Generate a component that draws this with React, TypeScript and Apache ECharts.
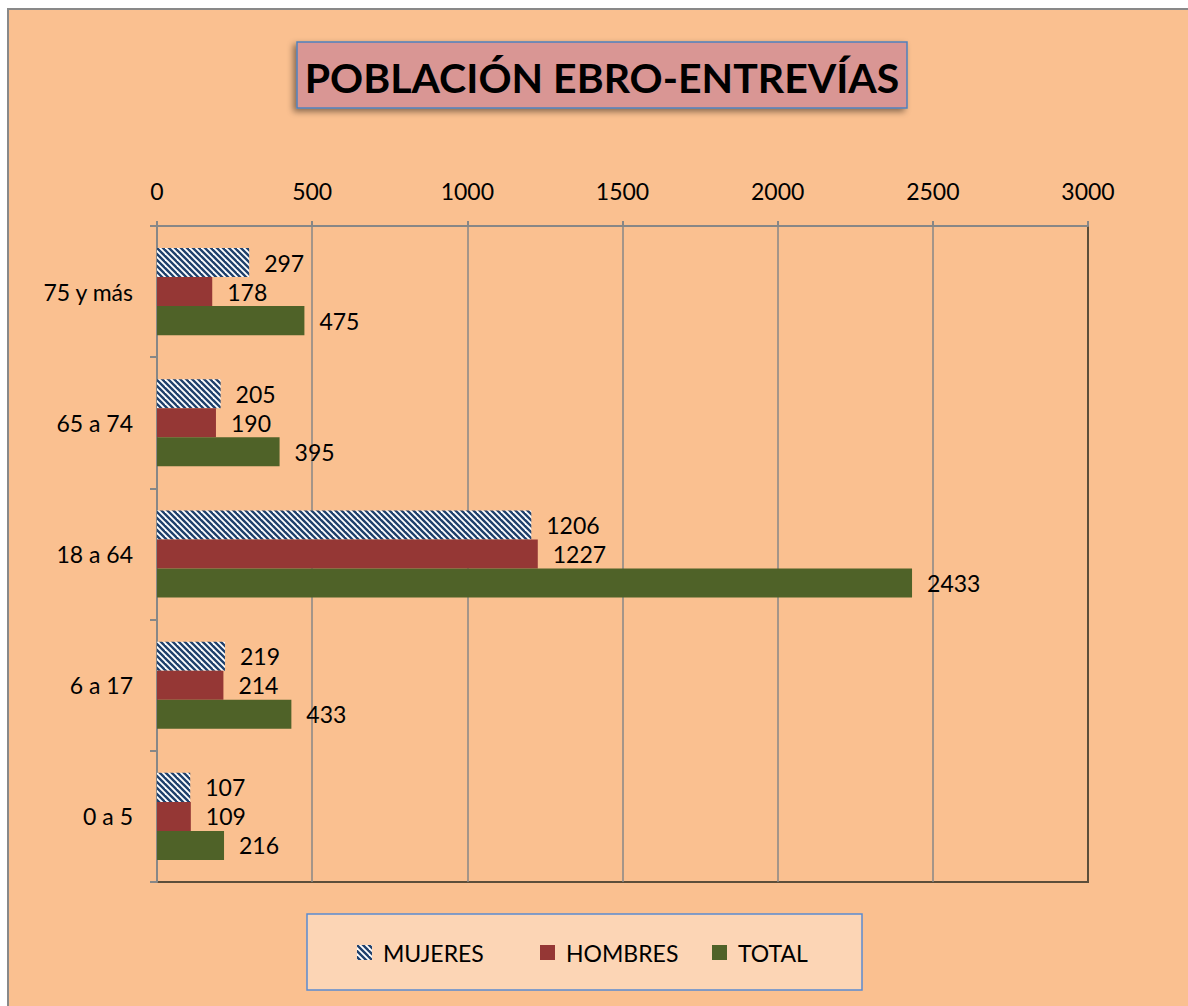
import React, { useEffect, useRef } from "react";
import * as echarts from "echarts";

const categories = ["0 a 5", "6 a 17", "18 a 64", "65 a 74", "75 y más"];
const mujeres = [107, 219, 1206, 205, 297];
const hombres = [109, 214, 1227, 190, 178];
const total = [216, 433, 2433, 395, 475];
const xTicks = { min: 0, max: 3000, interval: 500 };
const titleText = "POBLACIÓN EBRO-ENTREVÍAS";

function makeStripes(): HTMLCanvasElement {
  const c = document.createElement("canvas");
  c.width = 12;
  c.height = 12;
  const ctx = c.getContext("2d")!;
  ctx.fillStyle = "#ffffff";
  ctx.fillRect(0, 0, 12, 12);
  ctx.strokeStyle = "#1F406C";
  ctx.lineWidth = 2.4;
  for (let k = -4; k <= 4; k++) {
    ctx.beginPath();
    ctx.moveTo(-12, -12 + 6 * k);
    ctx.lineTo(24, 24 + 6 * k);
    ctx.stroke();
  }
  return c;
}

export default function App() {
  const ref = useRef<HTMLDivElement>(null);
  useEffect(() => {
    document.documentElement.style.overflow = "hidden";
    document.body.style.overflow = "hidden";
    if (!ref.current) return;
    const chart = echarts.init(ref.current, null, { renderer: "svg" });
    const font = "Lato";
    const fs = 23;
    const pattern: any = { image: makeStripes(), repeat: "repeat", imageWidth: 12, imageHeight: 12 };
    const labelCfg = { show: true, position: "right", distance: 15, fontSize: fs, color: "#000", fontFamily: font };
    const legendBase = (name: string, left: number) => ({
      data: [name],
      left,
      top: 931,
      padding: 0,
      itemWidth: 15,
      itemHeight: 15,
      icon: "rect",
      selectedMode: false,
      textStyle: { fontSize: fs, color: "#000", fontFamily: font, padding: [0, 0, 0, 6] },
    });
    chart.setOption({
      animation: false,
      backgroundColor: "#FAC090",
      textStyle: { fontFamily: font },
      graphic: [
        {
          type: "rect",
          shape: { x: 288, y: 32, width: 610, height: 66 },
          style: {
            fill: "#D99694",
            stroke: "#4F81BD",
            lineWidth: 1.5,
            shadowBlur: 6,
            shadowColor: "rgba(0,0,0,0.45)",
            shadowOffsetX: -3,
            shadowOffsetY: 3,
          },
        },
        {
          type: "text",
          x: 593,
          y: 67,
          style: {
            text: titleText,
            font: "bold 41px Lato",
            fill: "#000",
            textAlign: "center",
            textVerticalAlign: "middle",
          },
        },
        {
          type: "rect",
          shape: { x: 298, y: 904, width: 555, height: 76 },
          style: { fill: "#FCD5B5", stroke: "#5B8BD0", lineWidth: 1.5 },
        },
      ],
      legend: [
        legendBase("MUJERES", 348),
        legendBase("HOMBRES", 531),
        legendBase("TOTAL", 703),
      ],
      grid: {
        left: 148,
        right: 100,
        top: 216,
        bottom: 124,
        show: true,
        borderColor: "#5C4E3A",
        borderWidth: 2,
        backgroundColor: "transparent",
      },
      xAxis: {
        type: "value",
        position: "top",
        min: xTicks.min,
        max: xTicks.max,
        interval: xTicks.interval,
        axisLine: { show: true, lineStyle: { color: "#878787", width: 2 } },
        axisTick: { show: true, length: 5, lineStyle: { color: "#878787", width: 2 } },
        axisLabel: { fontSize: fs, color: "#000", margin: 24, fontFamily: font, formatter: (v: number) => String(v) },
        splitLine: { show: true, showMinLine: false, showMaxLine: false, lineStyle: { color: "#878787", width: 1.5 } },
      },
      yAxis: {
        type: "category",
        data: categories,
        axisLine: { show: true, lineStyle: { color: "#878787", width: 2 } },
        axisTick: { show: true, length: 7, lineStyle: { color: "#878787", width: 2 } },
        axisLabel: { fontSize: fs, color: "#000", margin: 24, fontFamily: font },
        splitLine: { show: false },
      },
      series: [
        {
          name: "MUJERES",
          type: "bar",
          data: mujeres,
          barGap: "0%",
          barCategoryGap: "33.6%",
          itemStyle: { color: pattern },
          label: labelCfg,
        },
        {
          name: "HOMBRES",
          type: "bar",
          data: hombres,
          barGap: "0%",
          barCategoryGap: "33.6%",
          itemStyle: { color: "#953735" },
          label: labelCfg,
        },
        {
          name: "TOTAL",
          type: "bar",
          data: total,
          barGap: "0%",
          barCategoryGap: "33.6%",
          itemStyle: { color: "#4F6228" },
          label: labelCfg,
        },
      ],
    });
    return () => chart.dispose();
  }, []);
  return (
    <div
      style={{
        position: "absolute",
        left: 7,
        top: 8,
        width: 1181,
        height: 998,
        boxSizing: "border-box",
        borderTop: "2px solid #898989",
        borderLeft: "2px solid #898989",
        background: "#FAC090",
        overflow: "hidden",
      }}
    >
      <div ref={ref} style={{ width: 1179, height: 996 }} />
    </div>
  );
}
